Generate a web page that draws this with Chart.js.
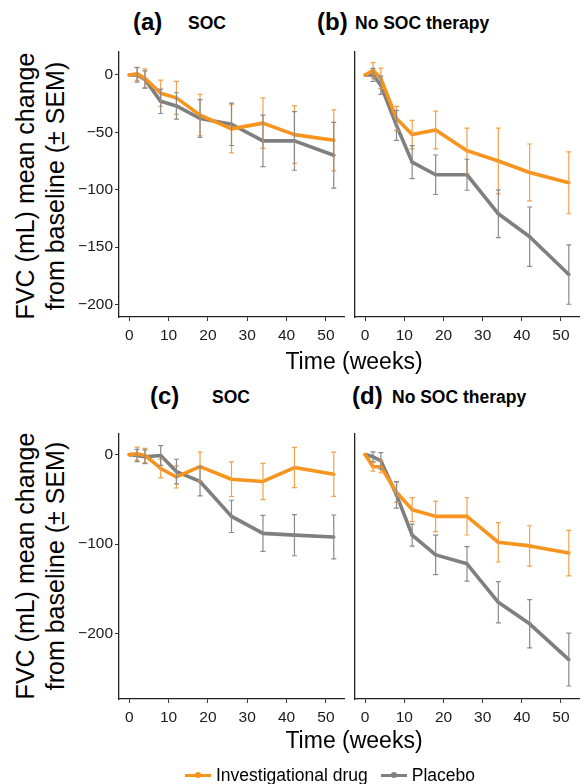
<!DOCTYPE html>
<html>
<head>
<meta charset="utf-8">
<script src="https://cdn.jsdelivr.net/npm/chart.js@4.4.1/dist/chart.umd.min.js"></script>
<style>
  body { margin: 0; width: 585px; height: 784px; position: relative; background: #fff; overflow: hidden;
         font-family: "Liberation Sans", Arial, sans-serif; color: #000; }
  .box { position: absolute; }
  .t { position: absolute; white-space: nowrap; transform: translateY(-50%); }
  .tag { font-weight: bold; font-size: 24px; }
  .sub { font-weight: bold; font-size: 17.5px; }
  .ytitle { position: absolute; white-space: nowrap; text-align: center; font-size: 25px; line-height: 30px;
            transform: translate(-50%, -50%) rotate(-90deg); }
  .xtitle { position: absolute; white-space: nowrap; font-size: 23px; transform: translate(-50%, -50%); }
  .legend { position: absolute; left: 185px; top: 765px; height: 20px; display: flex;
            align-items: center; font-size: 17.5px; white-space: nowrap; }
  .key { display: inline-block; position: relative; width: 26px; height: 3px; margin-right: 5px; }
  .key i { position: absolute; left: 10px; top: -1.5px; width: 6px; height: 6px; border-radius: 50%; }
</style>
</head>
<body>

<div class="t tag" style="left:133px;top:22px">(a)</div>
<div class="t sub" style="left:188px;top:23px">SOC</div>
<div class="t tag" style="left:317px;top:22px">(b)</div>
<div class="t sub" style="left:355px;top:23px">No SOC therapy</div>

<div class="t tag" style="left:150px;top:396px">(c)</div>
<div class="t sub" style="left:212px;top:397px">SOC</div>
<div class="t tag" style="left:352px;top:396px">(d)</div>
<div class="t sub" style="left:392px;top:397px">No SOC therapy</div>

<div class="ytitle" style="left:40px;top:186px">FVC (mL) mean change<br>from baseline (± SEM)</div>
<div class="ytitle" style="left:40px;top:566px">FVC (mL) mean change<br>from baseline (± SEM)</div>

<div class="box" style="left:69px;top:48px;width:279px;height:314px"><canvas id="panelA"></canvas></div>
<div class="box" style="left:351px;top:48px;width:232px;height:314px"><canvas id="panelB"></canvas></div>
<div class="box" style="left:69px;top:430px;width:279px;height:314px"><canvas id="panelC"></canvas></div>
<div class="box" style="left:351px;top:430px;width:232px;height:314px"><canvas id="panelD"></canvas></div>

<div class="xtitle" style="left:354px;top:361px">Time (weeks)</div>
<div class="xtitle" style="left:354px;top:740px">Time (weeks)</div>

<div class="legend">
  <span class="key" style="background:#F7941D"><i style="background:#F7941D"></i></span>
  <span style="margin-right:13px">Investigational drug</span>
  <span class="key" style="background:#7F7F7F"><i style="background:#7F7F7F"></i></span>
  <span>Placebo</span>
</div>

<script>
// study weeks and axis ticks
const weeks = [0, 2, 4, 8, 12, 18, 26, 34, 42, 52];
const xTicks = [0, 10, 20, 30, 40, 50];
const yTicksTop = [0, -50, -100, -150, -200];
const yTicksBottom = [0, -100, -200];
const seriesNames = ["Investigational drug", "Placebo"];

// (a) SOC
const drugA    = [0, 1, -3, -16, -20, -35, -47, -42, -52, -57];
const drugASem = [0, 5.7, 8.3, 11.5, 14.4, 18, 21, 22, 25, 26.6];
const placA    = [0, 0, -4, -23, -27, -38, -43, -57.5, -57.5, -70];
const placASem = [0, 6.3, 7.5, 10.6, 11.5, 16.5, 18.5, 22.4, 25.6, 28.7];

// (b) No SOC therapy
const drugB    = [0, 4, -3, -38, -52, -48, -66, -75, -85, -94];
const drugBSem = [0, 6.7, 9, 10.6, 12.4, 16.5, 19.7, 28.7, 24.8, 27];
const placB    = [0, 0, -9, -44, -76, -87, -87, -121, -141, -174];
const placBSem = [0, 5.7, 8, 13, 14.4, 17.2, 13.5, 20.8, 25.9, 25.9];

// (c) SOC
const drugC    = [0, 1, -1, -15.5, -25, -13.5, -27.5, -30, -14.5, -22];
const drugCSem = [0, 7.4, 8, 10.5, 12.3, 16.2, 19.3, 20.3, 22.5, 24.7];
const placC    = [0, -1, -2.5, -1, -19, -30, -69, -88, -90, -92];
const placCSem = [0, 6.8, 7.7, 11, 13.8, 16.2, 18, 20, 23, 24.5];

// (d) No SOC therapy
const drugD    = [0, -13.5, -13.5, -42, -61.5, -69, -69, -98, -102, -110];
const drugDSem = [0, 5, 6.8, 11.4, 13.4, 17, 20.8, 22, 22.5, 25.4];
const placD    = [0, -2.5, -7, -45, -90, -112, -122, -165, -189, -229];
const placDSem = [0, 5.5, 9.2, 14.7, 12.3, 22, 19.3, 23, 27, 29.5];

const ORANGE = "#F7941D", GREY = "#7F7F7F";
const FONT = "'Liberation Sans', Arial, sans-serif";

// draws +/- SEM bars through the chart's own scales
const errorBars = {
  id: "errorBars",
  afterDatasetsDraw(chart) {
    const { ctx, scales: { x, y } } = chart;
    chart.data.datasets.forEach(ds => {
      ctx.save();
      ctx.strokeStyle = ds.errColor;
      ctx.lineWidth = 1.2;
      ds.data.forEach((p, i) => {
        const e = ds.sem[i];
        if (!e) return;
        const px = x.getPixelForValue(p.x);
        const top = y.getPixelForValue(p.y + e), bot = y.getPixelForValue(p.y - e);
        ctx.beginPath();
        ctx.moveTo(px, top); ctx.lineTo(px, bot);
        ctx.moveTo(px - 2.5, top); ctx.lineTo(px + 2.5, top);
        ctx.moveTo(px - 2.5, bot); ctx.lineTo(px + 2.5, bot);
        ctx.stroke();
      });
      ctx.restore();
    });
  }
};

const minus = v => v < 0 ? "\u2212" + Math.abs(v) : String(v);

// no extra room for half-labels, so the plot box sits exactly in its div
const noPad = s => { s.paddingTop = 0; s.paddingBottom = 0; s.paddingLeft = 0; s.paddingRight = 0; };

function makePanel(id, drug, drugSem, plac, placSem, yMin, yMax, yTicks, leftPanel) {
  const line = (name, vals, sem, color, errColor) => ({
    label: name,
    data: weeks.map((w, i) => ({ x: w, y: vals[i] })),
    sem: sem,
    errColor: errColor,
    borderColor: color,
    backgroundColor: color,
    borderWidth: 3.6,
    borderJoinStyle: "round",
    pointRadius: 1.8,
    pointBorderWidth: 0,
    tension: 0
  });

  new Chart(document.getElementById(id), {
    type: "line",
    data: {
      datasets: [
        line(seriesNames[0], drug, drugSem, ORANGE, "#F6A04A"),
        line(seriesNames[1], plac, placSem, GREY, "#8A8A8A")
      ]
    },
    options: {
      responsive: true,
      maintainAspectRatio: false,
      animation: false,
      events: [],
      layout: { padding: 0 },
      plugins: { legend: { display: false }, tooltip: { enabled: false } },
      scales: {
        x: {
          type: "linear",
          min: -2.6,
          max: 54.6,
          afterBuildTicks: s => { s.ticks = xTicks.map(v => ({ value: v })); },
          afterFit: s => { s.height = 45; noPad(s); },
          border: { display: true, color: "#222", width: 1.3 },
          grid: { drawOnChartArea: false, drawTicks: true, tickLength: 4, color: "#333" },
          ticks: { color: "#1a1a1a", padding: 5, font: { family: FONT, size: 15.5 }, maxRotation: 0 }
        },
        y: {
          min: yMin,
          max: yMax,
          afterBuildTicks: s => { s.ticks = yTicks.map(v => ({ value: v })); },
          afterFit: s => { s.width = leftPanel ? 50 : 4; noPad(s); },
          border: { display: true, color: "#222", width: 1.3 },
          grid: { drawOnChartArea: false, drawTicks: leftPanel, tickLength: 4, color: "#333" },
          ticks: { display: leftPanel, color: "#1a1a1a", padding: 2, font: { family: FONT, size: 15.5 },
                   callback: minus }
        }
      }
    },
    plugins: [errorBars]
  });
}

makePanel("panelA", drugA, drugASem, placA, placASem, -211, 20, yTicksTop, true);
makePanel("panelB", drugB, drugBSem, placB, placBSem, -211, 20, yTicksTop, false);
makePanel("panelC", drugC, drugCSem, placC, placCSem, -273, 23, yTicksBottom, true);
makePanel("panelD", drugD, drugDSem, placD, placDSem, -273, 23, yTicksBottom, false);
</script>
</body>
</html>
